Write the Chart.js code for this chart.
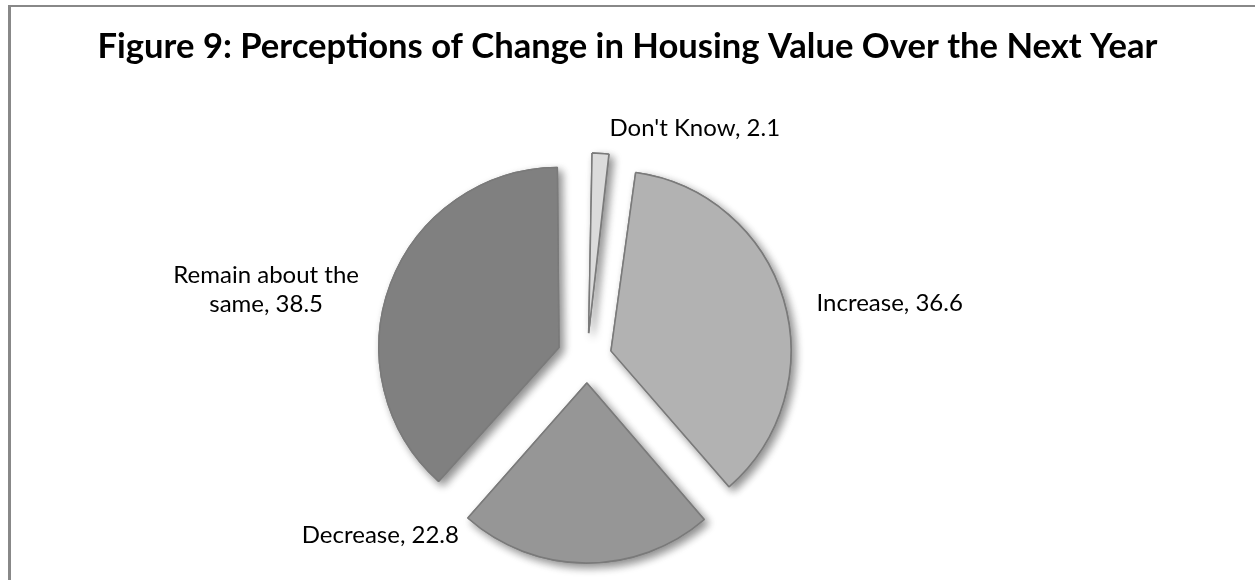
<!DOCTYPE html>
<html><head><meta charset="utf-8">
<script src="https://cdn.jsdelivr.net/npm/chart.js"></script>
<style>
html,body{margin:0;padding:0;background:#fff;}
#wrap{position:relative;width:1255px;height:580px;overflow:hidden;}
#frame{position:absolute;left:8px;top:5px;width:1300px;height:700px;border-left:3px solid #888;border-top:2px solid #888;box-sizing:border-box;}
canvas{position:absolute;left:0;top:0;}
</style></head><body>
<div id="wrap"><div id="frame"></div><canvas id="c" width="1255" height="580"></canvas></div>
<script>
const titleText = 'Figure 9: Perceptions of Change in Housing Value Over the Next Year';
const categories = ["Don't Know", 'Increase', 'Decrease', 'Remain about the same'];
const values = [2.1, 36.6, 22.8, 38.5];
const sliceColors = ['#dbdbdb', '#b2b2b2', '#969696', '#808080'];
const explode = [100, 100, 100, 120];   // Chart.js arc offset (translation = offset/4 px)
const labelLayout = [
  {angle: 5.8, gap: 26, align: 'left'},
  {angle: 77, gap: 31, align: 'left'},
  {angle: 220, gap: 19, align: 'right'},
  {angle: 286, gap: 28, align: 'right'}
];
const FONT = 'Lato, "Open Sans", sans-serif';
const labelSize = 24, labelLineH = 29, labelWrapW = 200;

function wrapText(ctx, text, maxW){
  const words = text.split(' '); const lines = []; let cur = '';
  words.forEach(w => {
    const test = cur ? cur + ' ' + w : w;
    if (cur && ctx.measureText(test).width > maxW) { lines.push(cur); cur = w; } else cur = test;
  });
  if (cur) lines.push(cur);
  return lines;
}

const radiusFix = {
  id: 'radiusFix',
  beforeDatasetsDraw(chart){
    const meta = chart.getDatasetMeta(0);
    const R = meta.controller.outerRadius;
    meta.data.forEach(arc => {
      const t = (arc.options.offset || 0) / 4;
      const c = arc.endAngle - arc.startAngle;
      const fix = 1 - Math.sin(Math.min(Math.PI, c));
      arc.outerRadius = R - t * fix;
    });
  }
};
const shadowPlugin = {
  id: 'sliceShadow',
  beforeDatasetDraw(chart, args){
    const ctx = chart.ctx;
    ctx.save();
    ctx.shadowColor = 'rgba(0,0,0,0.45)';
    ctx.shadowBlur = 9; ctx.shadowOffsetX = 4; ctx.shadowOffsetY = 4;
    args.meta.data.forEach(a => a.draw(ctx));
    ctx.restore();
  }
};
const labelsPlugin = {
  id: 'sliceLabels',
  afterDatasetsDraw(chart){
    const ctx = chart.ctx;
    const meta = chart.getDatasetMeta(0);
    const R = meta.controller.outerRadius;
    ctx.save();
    ctx.font = labelSize + 'px ' + FONT;
    ctx.fillStyle = '#000';
    ctx.textBaseline = 'middle';
    ctx.textAlign = 'center';
    meta.data.forEach((arc, i) => {
      const lay = labelLayout[i];
      const t = (arc.options.offset || 0) / 4;
      const mid = (arc.startAngle + arc.endAngle) / 2;
      const cx = arc.x + Math.cos(mid) * t, cy = arc.y + Math.sin(mid) * t;
      const a = (lay.angle - 90) * Math.PI / 180;
      const ax = cx + Math.cos(a) * (R + lay.gap), ay = cy + Math.sin(a) * (R + lay.gap);
      const lines = wrapText(ctx, categories[i] + ', ' + values[i], labelWrapW);
      const bw = Math.max(...lines.map(l => ctx.measureText(l).width));
      const left = lay.align === 'left' ? ax : (lay.align === 'right' ? ax - bw : ax - bw / 2);
      const top = ay - labelLineH * (lines.length - 1) / 2;
      lines.forEach((l, k) => ctx.fillText(l, left + bw / 2, top + k * labelLineH));
    });
    ctx.restore();
  }
};
const titlePlugin = {
  id: 'figTitle',
  afterDraw(chart){
    const ctx = chart.ctx;
    ctx.save();
    ctx.font = 'bold 30px ' + FONT;
    const w = ctx.measureText(titleText).width;
    const size = 30 * 1060 / w;
    ctx.font = 'bold ' + size.toFixed(2) + 'px ' + FONT;
    ctx.fillStyle = '#000';
    ctx.textAlign = 'center';
    ctx.textBaseline = 'alphabetic';
    ctx.fillText(titleText, chart.width / 2, 58);
    ctx.restore();
  }
};

new Chart(document.getElementById('c'), {
  type: 'pie',
  data: {
    labels: categories,
    datasets: [{
      data: values,
      backgroundColor: sliceColors,
      borderColor: '#7a7a7a',
      borderWidth: 1.5,
      offset: explode,
      hoverOffset: explode,
      clip: false
    }]
  },
  options: {
    responsive: false,
    animation: false,
    events: [],
    radius: 180,
    layout: {padding: {left: 0, right: 81, top: 136, bottom: 0}},
    plugins: {legend: {display: false}, tooltip: {enabled: false}, title: {display: false}}
  },
  plugins: [radiusFix, shadowPlugin, labelsPlugin, titlePlugin]
});
</script>
</body></html>
